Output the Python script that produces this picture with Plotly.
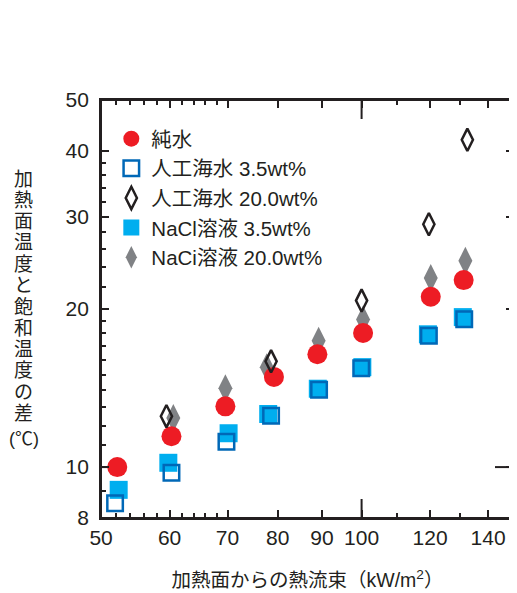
import plotly.graph_objects as go

# ---- data ----
x_pure = [52.2, 60.3, 69.6, 79.2, 88.9, 100.4, 120.2, 131.2]
y_pure = [10.0, 11.45, 13.05, 14.85, 16.4, 18.0, 21.1, 22.7]

x_sw35 = [51.9, 60.3, 69.8, 78.6, 89.3, 99.9, 119.6, 131.4]
y_sw35 = [8.53, 9.76, 11.18, 12.53, 14.03, 15.42, 17.78, 19.12]

x_sw20 = [59.5, 78.6, 100.0, 119.6, 132.5]
y_sw20 = [12.5, 15.9, 20.75, 29.0, 42.0]

x_nacl35 = [52.4, 59.8, 70.2, 78.0, 89.0, 100.2, 119.3, 130.9]
y_nacl35 = [9.05, 10.19, 11.6, 12.62, 14.1, 15.5, 17.9, 19.3]

x_nacl20 = [60.6, 69.6, 77.7, 89.2, 100.4, 120.2, 131.8]
y_nacl20 = [12.4, 14.13, 15.5, 17.4, 19.1, 22.9, 24.7]

names = ["純水", "人工海水 3.5wt%", "人工海水 20.0wt%", "NaCl溶液 3.5wt%", "NaCi溶液 20.0wt%"]

x_ticks = [50, 60, 70, 80, 90, 100, 120, 140]
x_minor = [52, 54, 56, 58, 62, 64, 66, 68, 110, 130]
y_ticks = [8, 10, 20, 30, 40, 50]
y_minor = [9, 11, 12, 13, 14, 15, 16, 17, 18, 19, 22, 24, 26, 28, 32, 34, 36, 38]

y_title_chars = list("加熱面温度と飽和温度の差") + ["(℃)"]

# ---- style ----
FONT = "Liberation Sans, Noto Sans CJK JP, sans-serif"
INK = "#231f20"
OFF = 8  # page body margin
W, H = 509, 585
ML, MR, MT, MB = 101 - OFF, 1, 100 - OFF, 75

fig = go.Figure()

fig.add_trace(go.Scatter(x=x_nacl20, y=y_nacl20, mode="markers", name=names[4], legendrank=5,
                         marker=dict(symbol="diamond-tall", size=20, color="#808285", line=dict(width=0))))
fig.add_trace(go.Scatter(x=x_nacl35, y=y_nacl35, mode="markers", name=names[3], legendrank=4,
                         marker=dict(symbol="square", size=18, color="#00aeef", line=dict(width=0))))
fig.add_trace(go.Scatter(x=x_pure, y=y_pure, mode="markers", name=names[0], legendrank=1,
                         marker=dict(symbol="circle", size=20, color="#ed1c24", line=dict(width=0))))
fig.add_trace(go.Scatter(x=x_sw35, y=y_sw35, mode="markers", name=names[1], legendrank=2,
                         marker=dict(symbol="square-open", size=15.5, color="#0068b7",
                                     line=dict(width=2.5, color="#0068b7"))))
fig.add_trace(go.Scatter(x=x_sw20, y=y_sw20, mode="markers", name=names[2], legendrank=3,
                         marker=dict(symbol="diamond-tall-open", size=16, color=INK,
                                     line=dict(width=2.5, color=INK))))

axis_common = dict(
    type="log", showgrid=False, zeroline=False,
    showline=True, linewidth=2, linecolor=INK, mirror="allticks",
    ticks="inside", ticklen=8, tickwidth=2, tickcolor=INK,
    tickfont=dict(family=FONT, size=21, color=INK),
    tickmode="array", layer="above traces",
)

fig.update_layout(
    width=W, height=H,
    margin=dict(l=ML, r=MR, t=MT, b=MB),
    paper_bgcolor="white", plot_bgcolor="white",
    font=dict(family=FONT, color=INK),
    showlegend=True,
    legend=dict(x=0.025, y=0.955, xanchor="left", yanchor="top",
                bgcolor="rgba(0,0,0,0)", font=dict(family=FONT, size=20.5, color=INK),
                itemsizing="trace", tracegroupgap=0),
    xaxis=dict(**axis_common, range=[1.6989, 2.1761],
               tickvals=x_ticks, ticktext=[str(v) for v in x_ticks],
               minor=dict(tickmode="array", tickvals=x_minor, ticks="inside", ticklen=5,
                          tickwidth=2, tickcolor=INK, showgrid=False),
               title=dict(text="加熱面からの熱流束（kW/m<sup>2</sup>）",
                          font=dict(family=FONT, size=19.5, color=INK), standoff=25)),
    yaxis=dict(**axis_common, range=[0.90305, 1.69900],
               tickvals=y_ticks, ticktext=[f"{v}\u00a0" for v in y_ticks],
               minor=dict(tickmode="array", tickvals=y_minor, ticks="inside", ticklen=5,
                          tickwidth=2, tickcolor=INK, showgrid=False)),
)

# plot frame
fig.add_shape(type="rect", xref="paper", yref="paper", x0=0, x1=1, y0=0, y1=1,
              line=dict(color=INK, width=2), fillcolor="rgba(0,0,0,0)", layer="above")

# longer ticks at x=100 and y=10 (bottom/top, left/right)
long_len = 19
line_style = dict(color=INK, width=2)
fig.add_shape(type="line", line=line_style, layer="above",
              xref="x", x0=100, x1=100, yref="paper", ysizemode="pixel", yanchor=0, y0=0, y1=long_len)
fig.add_shape(type="line", line=line_style, layer="above",
              xref="x", x0=100, x1=100, yref="paper", ysizemode="pixel", yanchor=1, y0=0, y1=-long_len)
fig.add_shape(type="line", line=line_style, layer="below",
              yref="y", y0=10, y1=10, xref="paper", xsizemode="pixel", xanchor=0, x0=0, x1=long_len)
fig.add_shape(type="line", line=line_style, layer="above",
              yref="y", y0=10, y1=10, xref="paper", xsizemode="pixel", xanchor=1, x0=0, x1=-long_len)

# vertical (upright) y-axis title, one character per line (page pixel positions)
pw = W - ML - MR
ph = H - MT - MB
cx = 23.5
y_start, step = 179, 21.3
for i, ch in enumerate(y_title_chars):
    py = y_start + i * step + (4 if i == len(y_title_chars) - 1 else 0)
    fig.add_annotation(text=ch, showarrow=False, xref="paper", yref="paper",
                       x=(cx - OFF - ML) / pw, y=1 - (py - OFF - MT) / ph,
                       xanchor="center", yanchor="middle",
                       font=dict(family=FONT, size=19 if i < len(y_title_chars) - 1 else 18, color=INK))

fig.write_html("out.html", config={"displayModeBar": False})
